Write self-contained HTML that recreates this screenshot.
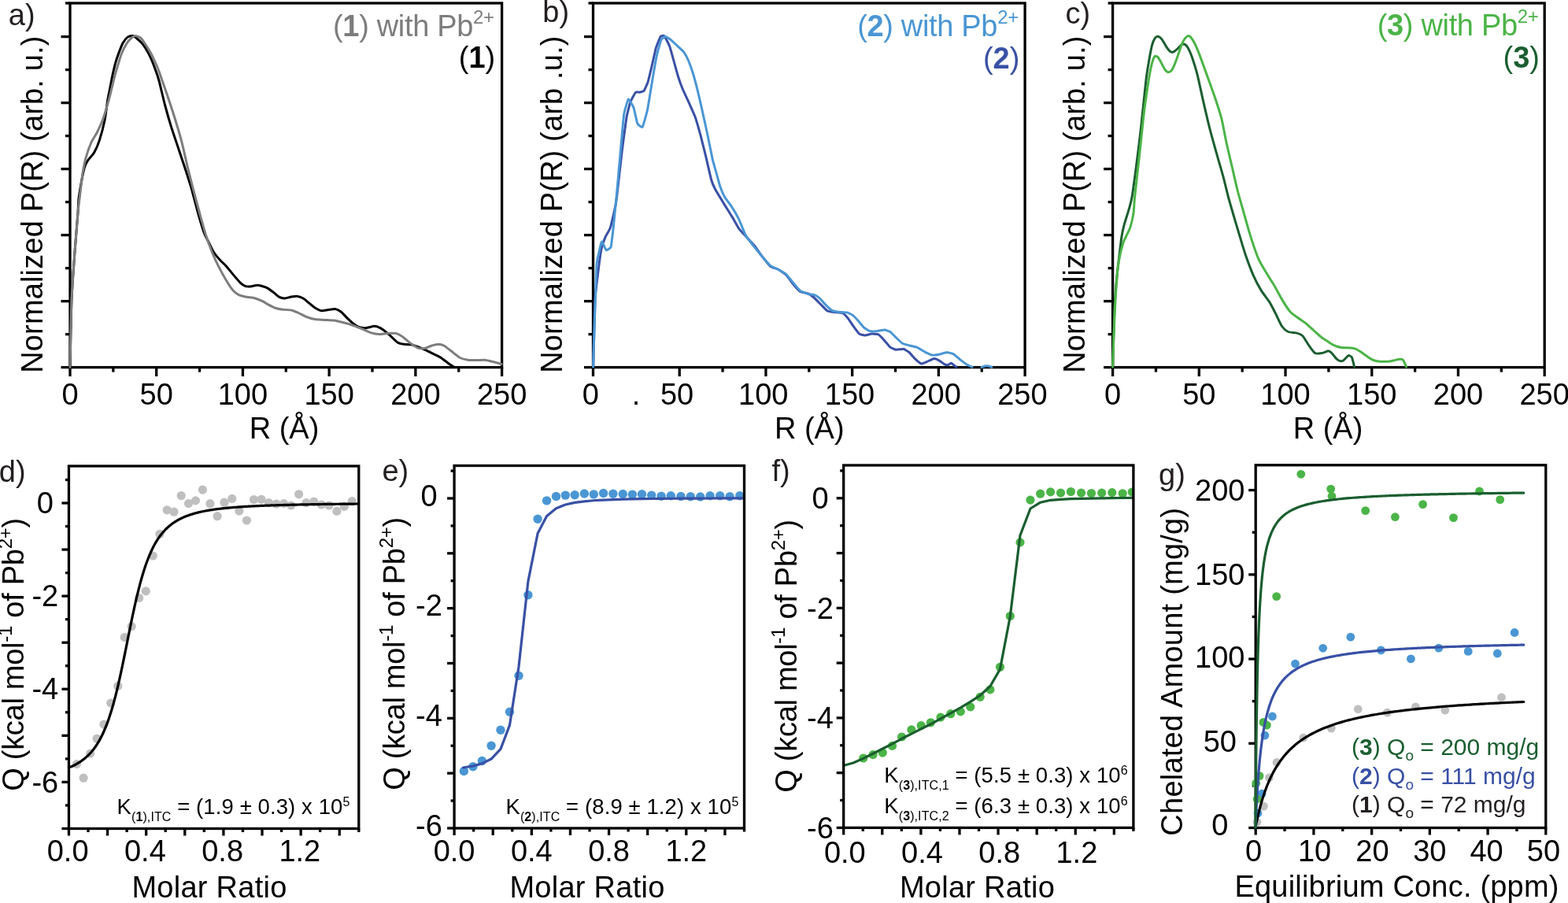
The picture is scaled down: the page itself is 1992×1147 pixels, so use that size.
<!DOCTYPE html>
<html><head><meta charset="utf-8"><title>Figure</title>
<style>
html,body{margin:0;padding:0;background:#fff;}
body{width:1992px;height:1147px;overflow:hidden;}
svg{display:block;}
text{font-family:'Liberation Sans', Arial, Helvetica, sans-serif;}
</style></head>
<body>
<svg width="1992" height="1147" viewBox="0 0 1992 1147">
<rect width="1992" height="1147" fill="#fff"/>
<line x1="89" y1="466.6" x2="89" y2="478.1" stroke="#000" stroke-width="3.3"/>
<line x1="198.72" y1="466.6" x2="198.72" y2="478.1" stroke="#000" stroke-width="3.3"/>
<line x1="308.44" y1="466.6" x2="308.44" y2="478.1" stroke="#000" stroke-width="3.3"/>
<line x1="418.16" y1="466.6" x2="418.16" y2="478.1" stroke="#000" stroke-width="3.3"/>
<line x1="527.88" y1="466.6" x2="527.88" y2="478.1" stroke="#000" stroke-width="3.3"/>
<line x1="637.6" y1="466.6" x2="637.6" y2="478.1" stroke="#000" stroke-width="3.3"/>
<line x1="143.86" y1="466.6" x2="143.86" y2="472.6" stroke="#000" stroke-width="3.3"/>
<line x1="253.58" y1="466.6" x2="253.58" y2="472.6" stroke="#000" stroke-width="3.3"/>
<line x1="363.3" y1="466.6" x2="363.3" y2="472.6" stroke="#000" stroke-width="3.3"/>
<line x1="473.02" y1="466.6" x2="473.02" y2="472.6" stroke="#000" stroke-width="3.3"/>
<line x1="582.74" y1="466.6" x2="582.74" y2="472.6" stroke="#000" stroke-width="3.3"/>
<line x1="77.5" y1="466.6" x2="89" y2="466.6" stroke="#000" stroke-width="3.3"/>
<line x1="77.5" y1="382.6" x2="89" y2="382.6" stroke="#000" stroke-width="3.3"/>
<line x1="77.5" y1="298.6" x2="89" y2="298.6" stroke="#000" stroke-width="3.3"/>
<line x1="77.5" y1="214.6" x2="89" y2="214.6" stroke="#000" stroke-width="3.3"/>
<line x1="77.5" y1="130.6" x2="89" y2="130.6" stroke="#000" stroke-width="3.3"/>
<line x1="77.5" y1="46.6" x2="89" y2="46.6" stroke="#000" stroke-width="3.3"/>
<line x1="83" y1="424.6" x2="89" y2="424.6" stroke="#000" stroke-width="3.3"/>
<line x1="83" y1="340.6" x2="89" y2="340.6" stroke="#000" stroke-width="3.3"/>
<line x1="83" y1="256.6" x2="89" y2="256.6" stroke="#000" stroke-width="3.3"/>
<line x1="83" y1="172.6" x2="89" y2="172.6" stroke="#000" stroke-width="3.3"/>
<line x1="83" y1="88.6" x2="89" y2="88.6" stroke="#000" stroke-width="3.3"/>
<line x1="83" y1="4" x2="89" y2="4" stroke="#000" stroke-width="3.3"/>
<text x="89" y="514" font-size="38" text-anchor="middle" fill="#000">0</text>
<text x="198.72" y="514" font-size="38" text-anchor="middle" fill="#000">50</text>
<text x="308.44" y="514" font-size="38" text-anchor="middle" fill="#000">100</text>
<text x="418.16" y="514" font-size="38" text-anchor="middle" fill="#000">150</text>
<text x="527.88" y="514" font-size="38" text-anchor="middle" fill="#000">200</text>
<text x="637.6" y="514" font-size="38" text-anchor="middle" fill="#000">250</text>
<line x1="753.5" y1="466.6" x2="753.5" y2="478.1" stroke="#000" stroke-width="3.3"/>
<line x1="863.22" y1="466.6" x2="863.22" y2="478.1" stroke="#000" stroke-width="3.3"/>
<line x1="972.94" y1="466.6" x2="972.94" y2="478.1" stroke="#000" stroke-width="3.3"/>
<line x1="1082.66" y1="466.6" x2="1082.66" y2="478.1" stroke="#000" stroke-width="3.3"/>
<line x1="1192.38" y1="466.6" x2="1192.38" y2="478.1" stroke="#000" stroke-width="3.3"/>
<line x1="1302.1" y1="466.6" x2="1302.1" y2="478.1" stroke="#000" stroke-width="3.3"/>
<line x1="918.08" y1="466.6" x2="918.08" y2="472.6" stroke="#000" stroke-width="3.3"/>
<line x1="1027.8" y1="466.6" x2="1027.8" y2="472.6" stroke="#000" stroke-width="3.3"/>
<line x1="1137.52" y1="466.6" x2="1137.52" y2="472.6" stroke="#000" stroke-width="3.3"/>
<line x1="1247.24" y1="466.6" x2="1247.24" y2="472.6" stroke="#000" stroke-width="3.3"/>
<line x1="742" y1="466.6" x2="753.5" y2="466.6" stroke="#000" stroke-width="3.3"/>
<line x1="742" y1="382.6" x2="753.5" y2="382.6" stroke="#000" stroke-width="3.3"/>
<line x1="742" y1="298.6" x2="753.5" y2="298.6" stroke="#000" stroke-width="3.3"/>
<line x1="742" y1="214.6" x2="753.5" y2="214.6" stroke="#000" stroke-width="3.3"/>
<line x1="742" y1="130.6" x2="753.5" y2="130.6" stroke="#000" stroke-width="3.3"/>
<line x1="742" y1="46.6" x2="753.5" y2="46.6" stroke="#000" stroke-width="3.3"/>
<line x1="747.5" y1="424.6" x2="753.5" y2="424.6" stroke="#000" stroke-width="3.3"/>
<line x1="747.5" y1="340.6" x2="753.5" y2="340.6" stroke="#000" stroke-width="3.3"/>
<line x1="747.5" y1="256.6" x2="753.5" y2="256.6" stroke="#000" stroke-width="3.3"/>
<line x1="747.5" y1="172.6" x2="753.5" y2="172.6" stroke="#000" stroke-width="3.3"/>
<line x1="747.5" y1="88.6" x2="753.5" y2="88.6" stroke="#000" stroke-width="3.3"/>
<line x1="747.5" y1="4" x2="753.5" y2="4" stroke="#000" stroke-width="3.3"/>
<text x="750.3" y="514" font-size="38" text-anchor="middle" fill="#000">0</text>
<text x="860.02" y="514" font-size="38" text-anchor="middle" fill="#000">50</text>
<text x="969.74" y="514" font-size="38" text-anchor="middle" fill="#000">100</text>
<text x="1079.46" y="514" font-size="38" text-anchor="middle" fill="#000">150</text>
<text x="1189.18" y="514" font-size="38" text-anchor="middle" fill="#000">200</text>
<text x="1298.9" y="514" font-size="38" text-anchor="middle" fill="#000">250</text>
<line x1="1413.6" y1="466.6" x2="1413.6" y2="478.1" stroke="#000" stroke-width="3.3"/>
<line x1="1523.32" y1="466.6" x2="1523.32" y2="478.1" stroke="#000" stroke-width="3.3"/>
<line x1="1633.04" y1="466.6" x2="1633.04" y2="478.1" stroke="#000" stroke-width="3.3"/>
<line x1="1742.76" y1="466.6" x2="1742.76" y2="478.1" stroke="#000" stroke-width="3.3"/>
<line x1="1852.48" y1="466.6" x2="1852.48" y2="478.1" stroke="#000" stroke-width="3.3"/>
<line x1="1962.2" y1="466.6" x2="1962.2" y2="478.1" stroke="#000" stroke-width="3.3"/>
<line x1="1468.46" y1="466.6" x2="1468.46" y2="472.6" stroke="#000" stroke-width="3.3"/>
<line x1="1578.18" y1="466.6" x2="1578.18" y2="472.6" stroke="#000" stroke-width="3.3"/>
<line x1="1687.9" y1="466.6" x2="1687.9" y2="472.6" stroke="#000" stroke-width="3.3"/>
<line x1="1797.62" y1="466.6" x2="1797.62" y2="472.6" stroke="#000" stroke-width="3.3"/>
<line x1="1907.34" y1="466.6" x2="1907.34" y2="472.6" stroke="#000" stroke-width="3.3"/>
<line x1="1402.1" y1="466.6" x2="1413.6" y2="466.6" stroke="#000" stroke-width="3.3"/>
<line x1="1402.1" y1="382.6" x2="1413.6" y2="382.6" stroke="#000" stroke-width="3.3"/>
<line x1="1402.1" y1="298.6" x2="1413.6" y2="298.6" stroke="#000" stroke-width="3.3"/>
<line x1="1402.1" y1="214.6" x2="1413.6" y2="214.6" stroke="#000" stroke-width="3.3"/>
<line x1="1402.1" y1="130.6" x2="1413.6" y2="130.6" stroke="#000" stroke-width="3.3"/>
<line x1="1402.1" y1="46.6" x2="1413.6" y2="46.6" stroke="#000" stroke-width="3.3"/>
<line x1="1407.6" y1="424.6" x2="1413.6" y2="424.6" stroke="#000" stroke-width="3.3"/>
<line x1="1407.6" y1="340.6" x2="1413.6" y2="340.6" stroke="#000" stroke-width="3.3"/>
<line x1="1407.6" y1="256.6" x2="1413.6" y2="256.6" stroke="#000" stroke-width="3.3"/>
<line x1="1407.6" y1="172.6" x2="1413.6" y2="172.6" stroke="#000" stroke-width="3.3"/>
<line x1="1407.6" y1="88.6" x2="1413.6" y2="88.6" stroke="#000" stroke-width="3.3"/>
<line x1="1407.6" y1="4" x2="1413.6" y2="4" stroke="#000" stroke-width="3.3"/>
<text x="1413.6" y="514" font-size="38" text-anchor="middle" fill="#000">0</text>
<text x="1523.32" y="514" font-size="38" text-anchor="middle" fill="#000">50</text>
<text x="1633.04" y="514" font-size="38" text-anchor="middle" fill="#000">100</text>
<text x="1742.76" y="514" font-size="38" text-anchor="middle" fill="#000">150</text>
<text x="1852.48" y="514" font-size="38" text-anchor="middle" fill="#000">200</text>
<text x="1962.2" y="514" font-size="38" text-anchor="middle" fill="#000">250</text>
<rect x="89" y="4" width="548.6" height="462.6" fill="none" stroke="#000" stroke-width="3.3"/>
<rect x="753.5" y="4" width="548.6" height="462.6" fill="none" stroke="#000" stroke-width="3.3"/>
<rect x="1413.6" y="4" width="548.6" height="462.6" fill="none" stroke="#000" stroke-width="3.3"/>
<path d="M89,466.5 C89.23,456.41 90.3,397.09 91,380 C91.7,362.91 94.07,332.83 95,320 C95.93,307.17 98.38,278.17 99,270 C99.62,261.83 99.37,256.53 100.3,250 C101.23,243.47 105.66,219.43 107,214 C108.34,208.57 110.34,205.83 111.8,203.5 C113.26,201.17 117.82,196.91 119.5,194 C121.18,191.09 124.62,183.42 126.2,178.6 C127.78,173.78 131.75,158.8 133,152.7 C134.25,146.6 136.08,131.21 136.9,126.3 C137.72,121.39 139.28,114.26 140,110.6 C140.72,106.94 142.29,98.56 143.1,94.9 C143.91,91.24 146,82.4 146.9,79.2 C147.8,76 149.75,70.32 150.8,67.5 C151.85,64.68 154.57,57.38 155.9,55 C157.23,52.62 160.65,48.21 162.2,47.1 C163.75,45.99 167.82,45.28 169.2,45.5 C170.58,45.72 172.8,48 174,49 C175.2,50 178.23,52.68 179.5,54.1 C180.77,55.52 183.53,59 184.9,61.2 C186.27,63.41 189.73,69.79 191.2,73 C192.67,76.21 196.24,85.26 197.5,88.7 C198.76,92.14 200.59,97.27 202,102.5 C203.41,107.73 207.81,126.75 209.6,133.5 C211.38,140.25 215.28,153.9 217.3,160.4 C219.32,166.9 224.66,182.48 226.9,189.2 C229.14,195.92 234.57,212.07 236.5,218 C238.43,223.93 241.66,233.93 243.4,240 C245.14,246.07 249.53,263.45 251.4,270 C253.27,276.55 257.77,291.64 259.4,296.1 C261.03,300.56 264,305.39 265.4,308.2 C266.8,311.01 269.75,317.63 271.4,320.2 C273.04,322.77 277.62,328.1 279.5,330.2 C281.38,332.3 285.4,335.85 287.5,338.2 C289.6,340.55 295.4,347.84 297.5,350.3 C299.6,352.76 303.87,357.78 305.5,359.3 C307.13,360.82 310.09,362.76 311.5,363.3 C312.91,363.84 315.72,364.02 317.6,363.9 C319.48,363.78 325.5,362.25 327.6,362.3 C329.7,362.35 334.15,363.86 335.6,364.3 C337.05,364.74 338.61,365.27 340,366.1 C341.39,366.93 345.75,370.08 347.5,371.4 C349.25,372.72 353.33,376.52 355,377.4 C356.67,378.27 360.04,378.95 361.8,378.9 C363.56,378.85 368.16,377.29 370.1,377 C372.04,376.71 376.64,376.17 378.4,376.4 C380.16,376.63 383.53,378 385.2,379 C386.87,380 390.95,383.6 392.7,385 C394.45,386.4 398.36,389.86 400.2,391 C402.04,392.14 406.56,394.5 408.5,394.8 C410.44,395.1 414.78,393.87 416.8,393.6 C418.82,393.33 423.86,392.19 425.8,392.5 C427.74,392.81 431.64,394.98 433.4,396.3 C435.16,397.62 439.15,402.13 440.9,403.8 C442.65,405.47 446.64,409.24 448.4,410.6 C450.16,411.97 454.06,414.8 456,415.5 C457.94,416.2 462.73,416.74 465,416.6 C467.27,416.46 473.39,414.3 475.5,414.3 C477.61,414.3 481.34,415.71 483.1,416.6 C484.86,417.49 488.85,420.5 490.6,421.9 C492.35,423.3 496.34,427.03 498.1,428.6 C499.86,430.18 503.94,434.4 505.7,435.4 C507.46,436.4 511.28,436.93 513.2,437.2 C515.12,437.47 520.09,437.29 522.2,437.7 C524.31,438.11 529.01,439.82 531.3,440.7 C533.59,441.57 539.52,444.15 541.8,445.2 C544.07,446.25 548.69,448.65 550.8,449.7 C552.91,450.75 557.79,452.88 559.9,454.2 C562.01,455.52 566.98,459.62 568.9,461 C570.82,462.38 575.52,465.42 576.4,466" fill="none" stroke="#000" stroke-width="3.0" stroke-linejoin="round" stroke-linecap="round"/>
<path d="M89,466.5 C89.23,456.41 90.3,397.09 91,380 C91.7,362.91 94.07,332.83 95,320 C95.93,307.17 98.27,278.17 99,270 C99.73,261.83 100.59,255.86 101.3,250 C102.01,244.14 104.2,225.55 105.1,219.8 C106,214.05 107.76,205.17 109,200.7 C110.24,196.23 114.02,185.31 115.7,181.5 C117.38,177.69 121.62,171.58 123.4,168 C125.19,164.42 129.25,155.67 131,150.8 C132.75,145.94 137.08,130.99 138.4,126.3 C139.72,121.61 141.39,114.26 142.3,110.6 C143.21,106.94 145.21,98.56 146.2,94.9 C147.19,91.24 149.81,82.4 150.8,79.2 C151.79,76 153.56,70.24 154.7,67.5 C155.84,64.76 159.34,57.79 160.6,55.7 C161.86,53.61 164.22,50.79 165.5,49.6 C166.78,48.41 170.06,45.66 171.6,45.5 C173.14,45.34 177.15,46.92 178.7,48.2 C180.25,49.48 183.35,54.16 184.9,56.5 C186.45,58.84 190.24,64.92 192,68.3 C193.76,71.68 198.83,82.88 200,85.5 C201.17,88.12 200.65,86.98 202,90.8 C203.35,94.61 209.37,111.64 211.6,118.2 C213.83,124.76 218.87,139.84 221.1,147 C223.33,154.16 228.68,171.96 230.7,179.6 C232.72,187.24 236.69,205.45 238.4,212.5 C240.12,219.55 243.65,233.29 245.4,240 C247.15,246.71 251.53,263.22 253.4,270 C255.27,276.78 259.53,292.24 261.4,298.1 C263.27,303.96 267.52,315.52 269.4,320.2 C271.28,324.88 275.39,333.99 277.5,338.2 C279.61,342.41 285.4,352.79 287.5,356.3 C289.6,359.81 293.63,366.15 295.5,368.3 C297.37,370.45 301.39,373.65 303.5,374.7 C305.61,375.75 311.25,376.83 313.6,377.3 C315.95,377.77 321.27,378.07 323.6,378.7 C325.93,379.33 331.69,381.79 333.6,382.7 C335.51,383.61 338.2,385.53 340,386.5 C341.8,387.47 346.89,390.24 349,391 C351.11,391.76 355.64,392.65 358.1,393 C360.56,393.35 367.64,393.48 370.1,394 C372.56,394.52 376.91,396.5 379.2,397.5 C381.49,398.5 387.25,401.66 389.7,402.6 C392.15,403.55 397.56,405.16 400.2,405.6 C402.84,406.04 409.49,406.22 412.3,406.4 C415.11,406.57 421.49,406.7 424.3,407.1 C427.11,407.5 433.59,409.08 436.4,409.8 C439.21,410.52 445.59,412.33 448.4,413.3 C451.21,414.27 457.86,417.02 460.5,418.1 C463.14,419.19 468.54,421.84 471,422.6 C473.46,423.36 479.14,424.51 481.6,424.6 C484.06,424.69 489.64,423.54 492.1,423.4 C494.56,423.26 500.41,422.88 502.7,423.4 C504.99,423.92 509.6,426.5 511.7,427.9 C513.8,429.3 518.41,433.73 520.7,435.4 C522.99,437.07 529.01,441.41 531.3,442.2 C533.59,442.99 538.38,442.55 540.3,442.2 C542.22,441.85 545.86,439.78 547.8,439.2 C549.74,438.62 554.96,437.2 556.9,437.2 C558.84,437.2 562.48,438.17 564.4,439.2 C566.32,440.23 571.11,444.25 573.4,446 C575.69,447.75 581.54,452.88 584,454.2 C586.46,455.52 592.04,456.9 594.5,457.3 C596.96,457.7 602.64,457.6 605.1,457.6 C607.56,457.6 613.15,457.08 615.6,457.3 C618.05,457.52 623.6,458.89 626.1,459.5 C628.6,460.11 635.73,462.15 637,462.5" fill="none" stroke="#7d7d7d" stroke-width="3.0" stroke-linejoin="round" stroke-linecap="round"/>
<path d="M753.6,466 C753.74,461.01 755.63,387.5 756,380.4 C756.37,373.3 759.53,348.05 760,344.3 C760.47,340.56 763.48,318.71 764,316.2 C764.52,313.69 768.35,302.72 769,301.2 C769.65,299.68 774.51,291.68 775.1,290.1 C775.69,288.52 778.69,275.85 779.1,274.1 C779.51,272.35 781.84,261.51 782.1,260.1 C782.36,258.69 783.12,254.03 783.6,250 C784.08,245.97 789.58,196.9 790.3,191 C791.02,185.1 795.39,152.48 796,148.9 C796.61,145.32 800.13,131.55 800.8,129.7 C801.47,127.85 806.83,117.93 807.5,117.2 C808.17,116.47 811.68,117.31 812.3,117.2 C812.92,117.09 817.48,116.02 818.1,115.3 C818.72,114.58 822.34,106.53 822.9,104.8 C823.46,103.07 827.09,88.17 827.7,85.6 C828.31,83.03 832.73,62.99 833.4,60.7 C834.07,58.41 838.58,47.17 839.2,46.3 C839.82,45.42 843.33,44.97 844,45.7 C844.67,46.43 849.98,56.86 850.7,58.8 C851.42,60.74 855.79,76.72 856.4,78.9 C857.01,81.08 860.58,94.24 861.2,96.2 C861.82,98.16 866.1,110.32 867,112.5 C867.9,114.68 875.65,131.38 876.6,133.5 C877.55,135.62 882.52,146.66 883.3,148.9 C884.08,151.14 889.22,169 890,171.9 C890.78,174.81 895.92,195.46 896.7,198.7 C897.48,201.94 902.72,225.09 903.4,227.5 C904.08,229.91 907.4,238.1 908.4,240 C909.4,241.9 919.21,257.99 920.5,260.1 C921.79,262.21 929.45,274.35 930.5,276.1 C931.55,277.85 937.51,288.69 938.5,290.1 C939.49,291.51 946.33,298.91 947.5,300.2 C948.67,301.49 957.37,310.68 958.6,312.2 C959.83,313.72 967.43,324.68 968.6,326.2 C969.77,327.72 977.43,337.36 978.6,338.3 C979.77,339.24 987.53,341.66 988.7,342.3 C989.87,342.94 997.53,348.13 998.7,349.3 C999.87,350.47 1007.65,361.07 1008.7,362.3 C1009.75,363.53 1015.63,369.78 1016.7,370.4 C1017.77,371.02 1025.98,372.56 1027,373 C1028.02,373.44 1033.2,377.22 1034.1,378 C1035,378.78 1041.52,385.42 1042.5,386.4 C1043.48,387.38 1049.91,394.21 1050.9,394.8 C1051.89,395.39 1058.25,396.34 1059.4,396.5 C1060.55,396.66 1069.54,397.12 1070.6,397.6 C1071.66,398.08 1076.78,403.67 1077.6,404.7 C1078.42,405.73 1083.88,414.07 1084.7,415.2 C1085.52,416.33 1090.88,423.47 1091.7,424.1 C1092.52,424.73 1097.8,426 1098.7,426 C1099.6,426 1106.21,424.18 1107.2,424.1 C1108.19,424.02 1114.7,424.17 1115.6,424.6 C1116.5,425.03 1121.7,430.43 1122.6,431.4 C1123.5,432.37 1130.1,440.45 1131,441.2 C1131.9,441.95 1137.11,444.18 1138.1,444.3 C1139.09,444.42 1146.91,443.11 1147.9,443.3 C1148.89,443.49 1154.1,446.72 1155,447.5 C1155.9,448.28 1162.5,455.85 1163.4,456.7 C1164.3,457.55 1169.58,461.84 1170.4,462 C1171.22,462.16 1176.46,459.88 1177.4,459.5 C1178.35,459.12 1185.7,455.6 1186.6,455.5 C1187.5,455.4 1192.12,457.39 1192.9,457.8 C1193.68,458.21 1199.25,462.26 1199.9,462.6 C1200.55,462.94 1203.6,463.78 1204.1,463.7 C1204.6,463.62 1207.78,461.07 1208.4,461.2 C1209.02,461.33 1214.33,465.72 1214.7,466" fill="none" stroke="#3950a5" stroke-width="3.0" stroke-linejoin="round" stroke-linecap="round"/>
<path d="M753.6,466 C753.72,462.17 755.34,407.97 755.6,400.4 C755.86,392.83 757.68,340.98 758,336.3 C758.32,331.62 760.63,321.9 761,320.2 C761.37,318.5 764.05,307.72 764.4,307.2 C764.75,306.68 766.67,310.58 767,311.2 C767.33,311.82 769.57,317.65 770.1,317.8 C770.63,317.95 775.58,315.42 776.1,313.8 C776.62,312.18 778.75,293.23 779.1,290.1 C779.45,286.97 781.81,263.02 782.1,260.1 C782.39,257.18 783.79,243.35 784.1,240 C784.41,236.65 786.9,208.08 787.4,202.6 C787.9,197.12 791.96,150.47 792.6,146 C793.24,141.53 797.56,126.4 798.3,125.9 C799.03,125.4 804.53,135.59 805.2,137.4 C805.87,139.21 809.16,155.51 809.8,156.9 C810.44,158.29 815.46,162.3 816.2,161.3 C816.94,160.3 821.78,143.11 822.5,139.7 C823.22,136.29 827.91,106.95 828.6,102.9 C829.29,98.85 833.75,73.32 834.4,70.3 C835.05,67.28 839.09,52.5 839.7,51.1 C840.31,49.7 844.21,46.36 844.9,46.3 C845.59,46.24 850.54,49.26 851.6,50.1 C852.66,50.94 862.09,59.75 863.1,60.7 C864.11,61.65 868.23,65.45 868.9,66.4 C869.57,67.35 873.93,75.43 874.6,77 C875.27,78.57 879.73,91.12 880.4,93.3 C881.07,95.48 885.43,111.72 886.1,114.4 C886.77,117.08 891.17,136.06 891.9,139.3 C892.63,142.54 897.82,166.31 898.6,170 C899.38,173.69 904.63,199.69 905.3,202.6 C905.97,205.5 909.54,217.79 910.1,219.8 C910.66,221.81 914.29,235.34 914.9,237.1 C915.51,238.86 919.59,248.43 920.5,250 C921.41,251.57 929.45,262.46 930.5,264.1 C931.55,265.74 937.51,276.05 938.5,278.1 C939.49,280.15 946.33,297.09 947.5,299.2 C948.67,301.31 957.37,312.62 958.6,314.2 C959.83,315.77 967.43,324.85 968.6,326.2 C969.77,327.55 977.43,336.36 978.6,337.3 C979.77,338.24 987.53,341.66 988.7,342.3 C989.87,342.94 997.53,347.25 998.7,348.3 C999.87,349.35 1007.65,359.07 1008.7,360.3 C1009.75,361.53 1015.63,368.63 1016.7,369.4 C1017.77,370.17 1025.98,373.21 1027,373.5 C1028.02,373.79 1033.28,374.1 1034.1,374.4 C1034.92,374.7 1040.28,378 1041.1,378.7 C1041.92,379.4 1047.2,385.5 1048.1,386.4 C1049,387.3 1055.51,393.53 1056.5,394.1 C1057.49,394.67 1063.85,396.04 1065,396.2 C1066.15,396.36 1075.13,396.65 1076.2,396.9 C1077.27,397.14 1082.48,399.78 1083.3,400.4 C1084.12,401.02 1089.48,406.6 1090.3,407.5 C1091.12,408.4 1096.48,415.15 1097.3,415.9 C1098.12,416.65 1103.4,420.11 1104.3,420.4 C1105.2,420.69 1111.65,420.88 1112.8,420.8 C1113.95,420.72 1122.94,418.96 1124,419 C1125.06,419.04 1130.18,420.94 1131,421.5 C1131.82,422.06 1137.2,427.74 1138.1,428.6 C1139,429.46 1145.51,435.71 1146.5,436.3 C1147.49,436.89 1153.93,438.41 1155,438.7 C1156.07,438.99 1163.66,440.73 1164.8,441.2 C1165.94,441.67 1173.45,446.23 1174.6,446.8 C1175.75,447.37 1183.43,450.8 1184.5,451 C1185.57,451.2 1191.84,450.5 1192.9,450.3 C1193.96,450.1 1201.63,447.54 1202.7,447.5 C1203.77,447.46 1210.21,449.06 1211.2,449.6 C1212.19,450.14 1218.62,455.92 1219.6,456.7 C1220.58,457.48 1227.1,462.45 1228,463 C1228.9,463.55 1234.69,466.01 1235.1,466.2" fill="none" stroke="#4a96d4" stroke-width="3.0" stroke-linejoin="round" stroke-linecap="round"/>
<path d="M1247,466.5 C1247.83,466.22 1250.5,465.05 1252,464.8 C1253.5,464.55 1254.67,464.72 1256,465 C1257.33,465.28 1259.33,466.25 1260,466.5" fill="none" stroke="#4a96d4" stroke-width="3.0" stroke-linejoin="round" stroke-linecap="round"/>
<path d="M1413.6,466 C1413.88,457.18 1415.37,403.9 1416,390.4 C1416.63,376.9 1418.3,358.02 1419,350.3 C1419.7,342.58 1421.3,330.05 1422,324.2 C1422.7,318.35 1424.3,304.64 1425,300.2 C1425.7,295.75 1426.94,290.08 1428,286.1 C1429.06,282.12 1432.92,270.31 1434.1,266.1 C1435.28,261.89 1436.99,256.52 1438.1,250 C1439.21,243.48 1442.29,220.21 1443.6,210.2 C1444.91,200.19 1447.85,176.94 1449.3,164.2 C1450.75,151.46 1454.73,111.51 1456,101 C1457.27,90.49 1459.3,79.26 1460.2,74.1 C1461.1,68.94 1462.85,59.82 1463.7,56.8 C1464.55,53.78 1466.6,49.43 1467.5,48.2 C1468.4,46.98 1470.38,46.08 1471.4,46.3 C1472.42,46.52 1474.98,48.54 1476.2,50.1 C1477.42,51.66 1480.68,57.9 1481.9,59.7 C1483.12,61.5 1485.7,64.77 1486.7,65.5 C1487.7,66.23 1489.38,66.45 1490.5,66 C1491.62,65.55 1495.06,62.67 1496.3,61.6 C1497.54,60.53 1499.98,57.36 1501.1,56.8 C1502.22,56.24 1504.78,56.01 1505.9,56.8 C1507.02,57.59 1509.58,61.36 1510.7,63.6 C1511.82,65.84 1514.28,72.31 1515.5,76 C1516.72,79.69 1519.64,88.94 1521.2,95.2 C1522.76,101.47 1527.1,121.87 1528.9,129.7 C1530.7,137.53 1534.59,154.47 1536.6,162.3 C1538.61,170.13 1544.09,189.64 1546.1,196.8 C1548.11,203.96 1552.13,217.49 1553.8,223.7 C1555.47,229.91 1558.97,244.6 1560.4,250 C1561.84,255.4 1564.47,264.4 1566.1,270 C1567.73,275.6 1572.49,291.68 1574.4,298 C1576.31,304.32 1580.39,318.1 1582.5,324.2 C1584.61,330.3 1590.17,345.03 1592.5,350.3 C1594.83,355.57 1600.15,365.54 1602.5,369.4 C1604.85,373.26 1610.49,380.02 1612.6,383.4 C1614.71,386.78 1618.73,394.77 1620.6,398.4 C1622.47,402.03 1626.73,411.81 1628.6,414.5 C1630.47,417.19 1634.49,420.52 1636.6,421.5 C1638.71,422.48 1644.59,422.32 1646.7,422.9 C1648.81,423.48 1652.83,424.67 1654.7,426.5 C1656.57,428.33 1660.83,436.02 1662.7,438.6 C1664.57,441.18 1668.82,447.43 1670.7,448.6 C1672.58,449.77 1677.35,448.75 1678.8,448.6 C1680.25,448.45 1682.11,447.63 1683.1,447.3 C1684.09,446.97 1686.38,445.76 1687.3,445.8 C1688.22,445.84 1690.14,446.89 1691,447.6 C1691.86,448.31 1693.85,450.9 1694.7,451.9 C1695.55,452.9 1697.38,455.42 1698.3,456.2 C1699.22,456.98 1701.67,458.39 1702.6,458.6 C1703.53,458.81 1705.45,458.47 1706.3,458 C1707.15,457.53 1709.08,455.35 1709.9,454.6 C1710.72,453.85 1712.45,451.71 1713.3,451.6 C1714.15,451.5 1716.52,452.74 1717.2,453.7 C1717.88,454.66 1718.7,458.37 1719.1,459.8 C1719.5,461.24 1720.42,465.28 1720.6,466" fill="none" stroke="#1b5e30" stroke-width="3.0" stroke-linejoin="round" stroke-linecap="round"/>
<path d="M1413.6,466 C1413.88,458.35 1415.37,413.66 1416,400.4 C1416.63,387.13 1418.3,360.72 1419,352.3 C1419.7,343.88 1421.07,333.34 1422,328.2 C1422.93,323.06 1425.82,311.82 1427,308.2 C1428.18,304.58 1431.04,299.54 1432.1,297.2 C1433.16,294.86 1435.17,291.26 1436.1,288.1 C1437.03,284.94 1439.46,274.55 1440.1,270.1 C1440.74,265.66 1440.75,258.33 1441.6,250 C1442.45,241.67 1446.06,210.95 1447.4,198.7 C1448.74,186.45 1451.88,155.29 1453.1,145 C1454.32,134.71 1456.84,117.43 1457.9,110.5 C1458.96,103.57 1461.19,90.07 1462.2,85.6 C1463.21,81.13 1465.57,73.72 1466.6,72.2 C1467.63,70.68 1469.88,71.53 1471,72.6 C1472.12,73.67 1475.15,79.55 1476.2,81.4 C1477.25,83.26 1479.04,87.3 1480,88.5 C1480.96,89.7 1483.35,91.7 1484.4,91.7 C1485.45,91.7 1487.95,89.99 1489,88.5 C1490.05,87.01 1492.37,81.48 1493.4,78.9 C1494.43,76.32 1496.8,69.2 1497.8,66.4 C1498.8,63.6 1501.06,57.02 1502,54.9 C1502.94,52.78 1504.88,49.27 1505.9,48.2 C1506.92,47.13 1509.58,45.36 1510.7,45.7 C1511.82,46.04 1514.38,49.35 1515.5,51.1 C1516.62,52.85 1518.96,57.57 1520.3,60.7 C1521.64,63.83 1525.33,73.43 1527,77.9 C1528.67,82.37 1532.59,93.4 1534.6,99 C1536.61,104.6 1542.18,119.86 1544.2,125.9 C1546.22,131.94 1550.31,144.49 1551.9,150.8 C1553.49,157.11 1556.26,172.93 1557.8,180 C1559.34,187.07 1563.42,204.17 1565.1,211.4 C1566.78,218.63 1570.5,235.3 1572.2,242 C1573.9,248.7 1577.85,262.25 1579.7,268.8 C1581.56,275.35 1585.91,291.17 1588.1,298.1 C1590.29,305.03 1596.11,322.58 1598.5,328.2 C1600.89,333.82 1606.25,342.32 1608.6,346.3 C1610.94,350.28 1616.27,358.32 1618.6,362.3 C1620.93,366.28 1626.27,376.54 1628.6,380.4 C1630.93,384.26 1636.25,392.7 1638.6,395.4 C1640.94,398.09 1646.36,401.74 1648.7,403.5 C1651.05,405.26 1656.37,408.63 1658.7,410.5 C1661.03,412.37 1666.36,417.4 1668.7,419.5 C1671.05,421.6 1676.77,426.89 1678.8,428.5 C1680.83,430.11 1684.54,432.29 1686.1,433.3 C1687.66,434.31 1690.78,436.42 1692.2,437.2 C1693.62,437.98 1696.88,439.5 1698.3,440 C1699.72,440.5 1702.98,441.29 1704.4,441.5 C1705.82,441.71 1709.08,441.73 1710.5,441.8 C1711.92,441.87 1715.18,441.93 1716.6,442.1 C1718.02,442.28 1721.28,442.73 1722.7,443.3 C1724.12,443.87 1727.38,446.07 1728.8,447 C1730.22,447.93 1733.47,450.3 1734.9,451.3 C1736.34,452.3 1739.66,454.78 1741.1,455.6 C1742.53,456.42 1745.78,457.88 1747.2,458.3 C1748.62,458.72 1751.88,459.08 1753.3,459.2 C1754.72,459.32 1757.98,459.34 1759.4,459.3 C1760.82,459.26 1764.08,459.09 1765.5,458.9 C1766.92,458.71 1770.18,458.01 1771.6,457.7 C1773.02,457.38 1776.49,456.31 1777.7,456.2 C1778.91,456.09 1781.22,456.24 1782,456.8 C1782.78,457.36 1783.88,459.93 1784.4,461 C1784.93,462.07 1786.26,465.42 1786.5,466" fill="none" stroke="#4bb447" stroke-width="3.0" stroke-linejoin="round" stroke-linecap="round"/>
<text x="802.7" y="514" font-size="38" text-anchor="start" fill="#000">.</text>
<text x="316.68" y="556.7" font-size="38" text-anchor="start" fill="#000">R (Å)</text>
<text x="983.88" y="557" font-size="38" text-anchor="start" fill="#000">R (Å)</text>
<text x="1642.68" y="557" font-size="38" text-anchor="start" fill="#000">R (Å)</text>
<text transform="translate(54,473.82) rotate(-90)" x="0" y="0" font-size="38" text-anchor="start" fill="#000" letter-spacing="0.16">Normalized P(R) (arb. u.)</text>
<text transform="translate(714,473.82) rotate(-90)" x="0" y="0" font-size="38" text-anchor="start" fill="#000" letter-spacing="0.16">Normalized P(R) (arb .u.)</text>
<text transform="translate(1378,473.82) rotate(-90)" x="0" y="0" font-size="38" text-anchor="start" fill="#000" letter-spacing="0.16">Normalized P(R) (arb. u.)</text>
<text x="627.75" y="45.6" font-size="38" text-anchor="end" fill="#7d7d7d" letter-spacing="-0.33">(<tspan font-weight="bold">1</tspan>) with Pb<tspan font-size="24" dy="-15.5">2+</tspan></text>
<text x="629.26" y="86.2" font-size="38" text-anchor="end" fill="#000">(<tspan font-weight="bold">1</tspan>)</text>
<text x="1293.85" y="45.8" font-size="38" text-anchor="end" fill="#4a96d4" letter-spacing="-0.33">(<tspan font-weight="bold">2</tspan>) with Pb<tspan font-size="24" dy="-15.5">2+</tspan></text>
<text x="1295.36" y="86.8" font-size="38" text-anchor="end" fill="#3950a5">(<tspan font-weight="bold">2</tspan>)</text>
<text x="1954.45" y="44.8" font-size="38" text-anchor="end" fill="#4bb447" letter-spacing="-0.33">(<tspan font-weight="bold">3</tspan>) with Pb<tspan font-size="24" dy="-15.5">2+</tspan></text>
<text x="1955.96" y="85.5" font-size="38" text-anchor="end" fill="#1b5e30">(<tspan font-weight="bold">3</tspan>)</text>
<text x="10.79" y="31.5" font-size="38" text-anchor="start" fill="#231f20">a)</text>
<text x="689.25" y="27.5" font-size="38" text-anchor="start" fill="#231f20">b)</text>
<text x="1353.39" y="29.5" font-size="38" text-anchor="start" fill="#231f20">c)</text>
<text x="-1.2" y="611.6" font-size="38" text-anchor="start" fill="#231f20">d)</text>
<text x="485.39" y="611.4" font-size="38" text-anchor="start" fill="#231f20">e)</text>
<text x="980.46" y="611.4" font-size="38" text-anchor="start" fill="#231f20">f)</text>
<text x="1472.1" y="615.5" font-size="38" text-anchor="start" fill="#231f20">g)</text>
<line x1="87.45" y1="1052.5" x2="87.45" y2="1061.5" stroke="#000" stroke-width="3.3"/>
<line x1="112.01" y1="1052.5" x2="112.01" y2="1057" stroke="#000" stroke-width="3.3"/>
<line x1="136.56" y1="1052.5" x2="136.56" y2="1061.5" stroke="#000" stroke-width="3.3"/>
<line x1="161.12" y1="1052.5" x2="161.12" y2="1057" stroke="#000" stroke-width="3.3"/>
<line x1="185.68" y1="1052.5" x2="185.68" y2="1061.5" stroke="#000" stroke-width="3.3"/>
<line x1="210.24" y1="1052.5" x2="210.24" y2="1057" stroke="#000" stroke-width="3.3"/>
<line x1="234.79" y1="1052.5" x2="234.79" y2="1061.5" stroke="#000" stroke-width="3.3"/>
<line x1="259.35" y1="1052.5" x2="259.35" y2="1057" stroke="#000" stroke-width="3.3"/>
<line x1="283.91" y1="1052.5" x2="283.91" y2="1061.5" stroke="#000" stroke-width="3.3"/>
<line x1="308.46" y1="1052.5" x2="308.46" y2="1057" stroke="#000" stroke-width="3.3"/>
<line x1="333.02" y1="1052.5" x2="333.02" y2="1061.5" stroke="#000" stroke-width="3.3"/>
<line x1="357.58" y1="1052.5" x2="357.58" y2="1057" stroke="#000" stroke-width="3.3"/>
<line x1="382.13" y1="1052.5" x2="382.13" y2="1061.5" stroke="#000" stroke-width="3.3"/>
<line x1="406.69" y1="1052.5" x2="406.69" y2="1057" stroke="#000" stroke-width="3.3"/>
<line x1="431.25" y1="1052.5" x2="431.25" y2="1061.5" stroke="#000" stroke-width="3.3"/>
<line x1="455.81" y1="1052.5" x2="455.81" y2="1057" stroke="#000" stroke-width="3.3"/>
<text x="86.15" y="1094.3" font-size="38" text-anchor="middle" fill="#000">0.0</text>
<text x="184.38" y="1094.3" font-size="38" text-anchor="middle" fill="#000">0.4</text>
<text x="282.61" y="1094.3" font-size="38" text-anchor="middle" fill="#000">0.8</text>
<text x="380.83" y="1094.3" font-size="38" text-anchor="middle" fill="#000">1.2</text>
<line x1="78.45" y1="1052.49" x2="87.45" y2="1052.49" stroke="#000" stroke-width="3.3"/>
<line x1="82.95" y1="1022.95" x2="87.45" y2="1022.95" stroke="#000" stroke-width="3.3"/>
<line x1="78.45" y1="993.42" x2="87.45" y2="993.42" stroke="#000" stroke-width="3.3"/>
<line x1="82.95" y1="963.88" x2="87.45" y2="963.88" stroke="#000" stroke-width="3.3"/>
<line x1="78.45" y1="934.35" x2="87.45" y2="934.35" stroke="#000" stroke-width="3.3"/>
<line x1="82.95" y1="904.82" x2="87.45" y2="904.82" stroke="#000" stroke-width="3.3"/>
<line x1="78.45" y1="875.28" x2="87.45" y2="875.28" stroke="#000" stroke-width="3.3"/>
<line x1="82.95" y1="845.75" x2="87.45" y2="845.75" stroke="#000" stroke-width="3.3"/>
<line x1="78.45" y1="816.21" x2="87.45" y2="816.21" stroke="#000" stroke-width="3.3"/>
<line x1="82.95" y1="786.67" x2="87.45" y2="786.67" stroke="#000" stroke-width="3.3"/>
<line x1="78.45" y1="757.14" x2="87.45" y2="757.14" stroke="#000" stroke-width="3.3"/>
<line x1="82.95" y1="727.61" x2="87.45" y2="727.61" stroke="#000" stroke-width="3.3"/>
<line x1="78.45" y1="698.07" x2="87.45" y2="698.07" stroke="#000" stroke-width="3.3"/>
<line x1="82.95" y1="668.53" x2="87.45" y2="668.53" stroke="#000" stroke-width="3.3"/>
<line x1="78.45" y1="639" x2="87.45" y2="639" stroke="#000" stroke-width="3.3"/>
<line x1="82.95" y1="609.47" x2="87.45" y2="609.47" stroke="#000" stroke-width="3.3"/>
<text x="57.3" y="652.2" font-size="38" text-anchor="middle" fill="#000">0</text>
<text x="57.3" y="770.34" font-size="38" text-anchor="middle" fill="#000">-2</text>
<text x="57.3" y="888.48" font-size="38" text-anchor="middle" fill="#000">-4</text>
<text x="57.3" y="1006.62" font-size="38" text-anchor="middle" fill="#000">-6</text>
<line x1="577.1" y1="1052" x2="577.1" y2="1061" stroke="#000" stroke-width="3.3"/>
<line x1="601.66" y1="1052" x2="601.66" y2="1056.5" stroke="#000" stroke-width="3.3"/>
<line x1="626.22" y1="1052" x2="626.22" y2="1061" stroke="#000" stroke-width="3.3"/>
<line x1="650.78" y1="1052" x2="650.78" y2="1056.5" stroke="#000" stroke-width="3.3"/>
<line x1="675.34" y1="1052" x2="675.34" y2="1061" stroke="#000" stroke-width="3.3"/>
<line x1="699.9" y1="1052" x2="699.9" y2="1056.5" stroke="#000" stroke-width="3.3"/>
<line x1="724.46" y1="1052" x2="724.46" y2="1061" stroke="#000" stroke-width="3.3"/>
<line x1="749.02" y1="1052" x2="749.02" y2="1056.5" stroke="#000" stroke-width="3.3"/>
<line x1="773.58" y1="1052" x2="773.58" y2="1061" stroke="#000" stroke-width="3.3"/>
<line x1="798.14" y1="1052" x2="798.14" y2="1056.5" stroke="#000" stroke-width="3.3"/>
<line x1="822.7" y1="1052" x2="822.7" y2="1061" stroke="#000" stroke-width="3.3"/>
<line x1="847.26" y1="1052" x2="847.26" y2="1056.5" stroke="#000" stroke-width="3.3"/>
<line x1="871.82" y1="1052" x2="871.82" y2="1061" stroke="#000" stroke-width="3.3"/>
<line x1="896.38" y1="1052" x2="896.38" y2="1056.5" stroke="#000" stroke-width="3.3"/>
<line x1="920.94" y1="1052" x2="920.94" y2="1061" stroke="#000" stroke-width="3.3"/>
<line x1="945.5" y1="1052" x2="945.5" y2="1056.5" stroke="#000" stroke-width="3.3"/>
<text x="577.1" y="1094.3" font-size="38" text-anchor="middle" fill="#000">0.0</text>
<text x="675.34" y="1094.3" font-size="38" text-anchor="middle" fill="#000">0.4</text>
<text x="773.58" y="1094.3" font-size="38" text-anchor="middle" fill="#000">0.8</text>
<text x="871.82" y="1094.3" font-size="38" text-anchor="middle" fill="#000">1.2</text>
<line x1="568.1" y1="1051.98" x2="577.1" y2="1051.98" stroke="#000" stroke-width="3.3"/>
<line x1="572.6" y1="1017.07" x2="577.1" y2="1017.07" stroke="#000" stroke-width="3.3"/>
<line x1="568.1" y1="982.15" x2="577.1" y2="982.15" stroke="#000" stroke-width="3.3"/>
<line x1="572.6" y1="947.24" x2="577.1" y2="947.24" stroke="#000" stroke-width="3.3"/>
<line x1="568.1" y1="912.32" x2="577.1" y2="912.32" stroke="#000" stroke-width="3.3"/>
<line x1="572.6" y1="877.4" x2="577.1" y2="877.4" stroke="#000" stroke-width="3.3"/>
<line x1="568.1" y1="842.49" x2="577.1" y2="842.49" stroke="#000" stroke-width="3.3"/>
<line x1="572.6" y1="807.58" x2="577.1" y2="807.58" stroke="#000" stroke-width="3.3"/>
<line x1="568.1" y1="772.66" x2="577.1" y2="772.66" stroke="#000" stroke-width="3.3"/>
<line x1="572.6" y1="737.75" x2="577.1" y2="737.75" stroke="#000" stroke-width="3.3"/>
<line x1="568.1" y1="702.83" x2="577.1" y2="702.83" stroke="#000" stroke-width="3.3"/>
<line x1="572.6" y1="667.91" x2="577.1" y2="667.91" stroke="#000" stroke-width="3.3"/>
<line x1="568.1" y1="633" x2="577.1" y2="633" stroke="#000" stroke-width="3.3"/>
<line x1="572.6" y1="598.09" x2="577.1" y2="598.09" stroke="#000" stroke-width="3.3"/>
<text x="545" y="642.8" font-size="38" text-anchor="middle" fill="#000">0</text>
<text x="545" y="782.46" font-size="38" text-anchor="middle" fill="#000">-2</text>
<text x="545" y="922.12" font-size="38" text-anchor="middle" fill="#000">-4</text>
<text x="545" y="1061.78" font-size="38" text-anchor="middle" fill="#000">-6</text>
<line x1="1071.7" y1="1051.4" x2="1071.7" y2="1060.4" stroke="#000" stroke-width="3.3"/>
<line x1="1096.25" y1="1051.4" x2="1096.25" y2="1055.9" stroke="#000" stroke-width="3.3"/>
<line x1="1120.79" y1="1051.4" x2="1120.79" y2="1060.4" stroke="#000" stroke-width="3.3"/>
<line x1="1145.34" y1="1051.4" x2="1145.34" y2="1055.9" stroke="#000" stroke-width="3.3"/>
<line x1="1169.89" y1="1051.4" x2="1169.89" y2="1060.4" stroke="#000" stroke-width="3.3"/>
<line x1="1194.43" y1="1051.4" x2="1194.43" y2="1055.9" stroke="#000" stroke-width="3.3"/>
<line x1="1218.98" y1="1051.4" x2="1218.98" y2="1060.4" stroke="#000" stroke-width="3.3"/>
<line x1="1243.53" y1="1051.4" x2="1243.53" y2="1055.9" stroke="#000" stroke-width="3.3"/>
<line x1="1268.08" y1="1051.4" x2="1268.08" y2="1060.4" stroke="#000" stroke-width="3.3"/>
<line x1="1292.62" y1="1051.4" x2="1292.62" y2="1055.9" stroke="#000" stroke-width="3.3"/>
<line x1="1317.17" y1="1051.4" x2="1317.17" y2="1060.4" stroke="#000" stroke-width="3.3"/>
<line x1="1341.72" y1="1051.4" x2="1341.72" y2="1055.9" stroke="#000" stroke-width="3.3"/>
<line x1="1366.26" y1="1051.4" x2="1366.26" y2="1060.4" stroke="#000" stroke-width="3.3"/>
<line x1="1390.81" y1="1051.4" x2="1390.81" y2="1055.9" stroke="#000" stroke-width="3.3"/>
<line x1="1415.36" y1="1051.4" x2="1415.36" y2="1060.4" stroke="#000" stroke-width="3.3"/>
<line x1="1439.9" y1="1051.4" x2="1439.9" y2="1055.9" stroke="#000" stroke-width="3.3"/>
<text x="1073.3" y="1095.5" font-size="38" text-anchor="middle" fill="#000">0.0</text>
<text x="1171.49" y="1095.5" font-size="38" text-anchor="middle" fill="#000">0.4</text>
<text x="1269.68" y="1095.5" font-size="38" text-anchor="middle" fill="#000">0.8</text>
<text x="1367.86" y="1095.5" font-size="38" text-anchor="middle" fill="#000">1.2</text>
<line x1="1062.7" y1="1051.42" x2="1071.7" y2="1051.42" stroke="#000" stroke-width="3.3"/>
<line x1="1067.2" y1="1016.53" x2="1071.7" y2="1016.53" stroke="#000" stroke-width="3.3"/>
<line x1="1062.7" y1="981.65" x2="1071.7" y2="981.65" stroke="#000" stroke-width="3.3"/>
<line x1="1067.2" y1="946.76" x2="1071.7" y2="946.76" stroke="#000" stroke-width="3.3"/>
<line x1="1062.7" y1="911.88" x2="1071.7" y2="911.88" stroke="#000" stroke-width="3.3"/>
<line x1="1067.2" y1="876.99" x2="1071.7" y2="876.99" stroke="#000" stroke-width="3.3"/>
<line x1="1062.7" y1="842.11" x2="1071.7" y2="842.11" stroke="#000" stroke-width="3.3"/>
<line x1="1067.2" y1="807.22" x2="1071.7" y2="807.22" stroke="#000" stroke-width="3.3"/>
<line x1="1062.7" y1="772.34" x2="1071.7" y2="772.34" stroke="#000" stroke-width="3.3"/>
<line x1="1067.2" y1="737.45" x2="1071.7" y2="737.45" stroke="#000" stroke-width="3.3"/>
<line x1="1062.7" y1="702.57" x2="1071.7" y2="702.57" stroke="#000" stroke-width="3.3"/>
<line x1="1067.2" y1="667.68" x2="1071.7" y2="667.68" stroke="#000" stroke-width="3.3"/>
<line x1="1062.7" y1="632.8" x2="1071.7" y2="632.8" stroke="#000" stroke-width="3.3"/>
<line x1="1067.2" y1="597.91" x2="1071.7" y2="597.91" stroke="#000" stroke-width="3.3"/>
<text x="1042" y="646" font-size="38" text-anchor="middle" fill="#000">0</text>
<text x="1042" y="785.54" font-size="38" text-anchor="middle" fill="#000">-2</text>
<text x="1042" y="925.08" font-size="38" text-anchor="middle" fill="#000">-4</text>
<text x="1042" y="1064.62" font-size="38" text-anchor="middle" fill="#000">-6</text>
<line x1="1595.2" y1="1051.5" x2="1595.2" y2="1060.5" stroke="#000" stroke-width="3.3"/>
<line x1="1632.06" y1="1051.5" x2="1632.06" y2="1056" stroke="#000" stroke-width="3.3"/>
<line x1="1668.92" y1="1051.5" x2="1668.92" y2="1060.5" stroke="#000" stroke-width="3.3"/>
<line x1="1705.78" y1="1051.5" x2="1705.78" y2="1056" stroke="#000" stroke-width="3.3"/>
<line x1="1742.64" y1="1051.5" x2="1742.64" y2="1060.5" stroke="#000" stroke-width="3.3"/>
<line x1="1779.5" y1="1051.5" x2="1779.5" y2="1056" stroke="#000" stroke-width="3.3"/>
<line x1="1816.36" y1="1051.5" x2="1816.36" y2="1060.5" stroke="#000" stroke-width="3.3"/>
<line x1="1853.22" y1="1051.5" x2="1853.22" y2="1056" stroke="#000" stroke-width="3.3"/>
<line x1="1890.08" y1="1051.5" x2="1890.08" y2="1060.5" stroke="#000" stroke-width="3.3"/>
<line x1="1926.94" y1="1051.5" x2="1926.94" y2="1056" stroke="#000" stroke-width="3.3"/>
<line x1="1963.8" y1="1051.5" x2="1963.8" y2="1060.5" stroke="#000" stroke-width="3.3"/>
<text x="1592.5" y="1094.2" font-size="38" text-anchor="middle" fill="#000">0</text>
<text x="1670.12" y="1094.2" font-size="38" text-anchor="middle" fill="#000">10</text>
<text x="1743.44" y="1094.2" font-size="38" text-anchor="middle" fill="#000">20</text>
<text x="1816.36" y="1094.2" font-size="38" text-anchor="middle" fill="#000">30</text>
<text x="1888.58" y="1094.2" font-size="38" text-anchor="middle" fill="#000">40</text>
<text x="1961" y="1094.2" font-size="38" text-anchor="middle" fill="#000">50</text>
<line x1="1586.2" y1="1051.5" x2="1595.2" y2="1051.5" stroke="#000" stroke-width="3.3"/>
<line x1="1590.7" y1="997.89" x2="1595.2" y2="997.89" stroke="#000" stroke-width="3.3"/>
<line x1="1586.2" y1="944.27" x2="1595.2" y2="944.27" stroke="#000" stroke-width="3.3"/>
<line x1="1590.7" y1="890.66" x2="1595.2" y2="890.66" stroke="#000" stroke-width="3.3"/>
<line x1="1586.2" y1="837.05" x2="1595.2" y2="837.05" stroke="#000" stroke-width="3.3"/>
<line x1="1590.7" y1="783.44" x2="1595.2" y2="783.44" stroke="#000" stroke-width="3.3"/>
<line x1="1586.2" y1="729.83" x2="1595.2" y2="729.83" stroke="#000" stroke-width="3.3"/>
<line x1="1590.7" y1="676.21" x2="1595.2" y2="676.21" stroke="#000" stroke-width="3.3"/>
<line x1="1586.2" y1="622.6" x2="1595.2" y2="622.6" stroke="#000" stroke-width="3.3"/>
<text x="1549.8" y="1061" font-size="38" text-anchor="middle" fill="#000">0</text>
<text x="1549.8" y="955.48" font-size="38" text-anchor="middle" fill="#000">50</text>
<text x="1549.8" y="848.05" font-size="38" text-anchor="middle" fill="#000">100</text>
<text x="1549.8" y="743.03" font-size="38" text-anchor="middle" fill="#000">150</text>
<text x="1549.8" y="636.1" font-size="38" text-anchor="middle" fill="#000">200</text>
<rect x="1595.2" y="590.8" width="368.6" height="460.7" fill="none" stroke="#000" stroke-width="3.3"/>
<defs><clipPath id="clipf"><rect x="1071.7" y="591" width="368.2" height="460.4"/></clipPath></defs>
<circle cx="97.4" cy="970.6" r="5.6" fill="#bfbfbf"/>
<circle cx="106.1" cy="988.2" r="5.6" fill="#bfbfbf"/>
<circle cx="114.7" cy="957.1" r="5.6" fill="#bfbfbf"/>
<circle cx="123.1" cy="938.2" r="5.6" fill="#bfbfbf"/>
<circle cx="131.9" cy="920.1" r="5.6" fill="#bfbfbf"/>
<circle cx="140.7" cy="893" r="5.6" fill="#bfbfbf"/>
<circle cx="149.8" cy="871.4" r="5.6" fill="#bfbfbf"/>
<circle cx="158.2" cy="809.6" r="5.6" fill="#bfbfbf"/>
<circle cx="167.2" cy="795.6" r="5.6" fill="#bfbfbf"/>
<circle cx="176.7" cy="759.5" r="5.6" fill="#bfbfbf"/>
<circle cx="185.3" cy="750.9" r="5.6" fill="#bfbfbf"/>
<circle cx="194.3" cy="706" r="5.6" fill="#bfbfbf"/>
<circle cx="203" cy="678.3" r="5.6" fill="#bfbfbf"/>
<circle cx="212.2" cy="647.8" r="5.6" fill="#bfbfbf"/>
<circle cx="221" cy="650.2" r="5.6" fill="#bfbfbf"/>
<circle cx="230.2" cy="629.5" r="5.6" fill="#bfbfbf"/>
<circle cx="239.5" cy="639.5" r="5.6" fill="#bfbfbf"/>
<circle cx="248.5" cy="635.9" r="5.6" fill="#bfbfbf"/>
<circle cx="257.5" cy="622.1" r="5.6" fill="#bfbfbf"/>
<circle cx="266.9" cy="639.7" r="5.6" fill="#bfbfbf"/>
<circle cx="276.1" cy="655.7" r="5.6" fill="#bfbfbf"/>
<circle cx="285" cy="638.2" r="5.6" fill="#bfbfbf"/>
<circle cx="294.8" cy="633.4" r="5.6" fill="#bfbfbf"/>
<circle cx="303.9" cy="649.1" r="5.6" fill="#bfbfbf"/>
<circle cx="313.4" cy="661" r="5.6" fill="#bfbfbf"/>
<circle cx="322.5" cy="634.5" r="5.6" fill="#bfbfbf"/>
<circle cx="332" cy="634.3" r="5.6" fill="#bfbfbf"/>
<circle cx="341.5" cy="638.6" r="5.6" fill="#bfbfbf"/>
<circle cx="351.1" cy="640.1" r="5.6" fill="#bfbfbf"/>
<circle cx="360.6" cy="639.6" r="5.6" fill="#bfbfbf"/>
<circle cx="369.7" cy="642" r="5.6" fill="#bfbfbf"/>
<circle cx="379.6" cy="627.8" r="5.6" fill="#bfbfbf"/>
<circle cx="389" cy="638.6" r="5.6" fill="#bfbfbf"/>
<circle cx="398.8" cy="637.2" r="5.6" fill="#bfbfbf"/>
<circle cx="408.3" cy="641" r="5.6" fill="#bfbfbf"/>
<circle cx="418" cy="642" r="5.6" fill="#bfbfbf"/>
<circle cx="427.9" cy="649.4" r="5.6" fill="#bfbfbf"/>
<circle cx="437.4" cy="643.4" r="5.6" fill="#bfbfbf"/>
<circle cx="447.2" cy="636.7" r="5.6" fill="#bfbfbf"/>
<path d="M87.5,975.08 L88.73,974.58 L89.96,974.05 L91.19,973.51 L92.42,972.94 L93.65,972.35 L94.87,971.73 L96.1,971.08 L97.33,970.4 L98.56,969.7 L99.79,968.96 L101.02,968.19 L102.25,967.38 L103.48,966.54 L104.71,965.65 L105.94,964.72 L107.17,963.75 L108.39,962.73 L109.62,961.66 L110.85,960.54 L112.08,959.36 L113.31,958.12 L114.54,956.82 L115.77,955.45 L117,954.01 L118.23,952.5 L119.46,950.91 L120.69,949.23 L121.91,947.47 L123.14,945.61 L124.37,943.65 L125.6,941.59 L126.83,939.42 L128.06,937.13 L129.29,934.72 L130.52,932.18 L131.75,929.51 L132.98,926.69 L134.21,923.73 L135.43,920.62 L136.66,917.35 L137.89,913.92 L139.12,910.31 L140.35,906.53 L141.58,902.58 L142.81,898.44 L144.04,894.12 L145.27,889.62 L146.5,884.94 L147.73,880.08 L148.95,875.04 L150.18,869.84 L151.41,864.47 L152.64,858.96 L153.87,853.3 L155.1,847.53 L156.33,841.64 L157.56,835.67 L158.79,829.62 L160.02,823.52 L161.25,817.4 L162.47,811.27 L163.7,805.15 L164.93,799.07 L166.16,793.05 L167.39,787.11 L168.62,781.27 L169.85,775.54 L171.08,769.94 L172.31,764.48 L173.54,759.18 L174.77,754.04 L175.99,749.07 L177.22,744.28 L178.45,739.67 L179.68,735.24 L180.91,730.99 L182.14,726.93 L183.37,723.04 L184.6,719.33 L185.83,715.8 L187.06,712.43 L188.29,709.22 L189.52,706.17 L190.74,703.27 L191.97,700.51 L193.2,697.89 L194.43,695.4 L195.66,693.04 L196.89,690.8 L198.12,688.67 L199.35,686.65 L200.58,684.74 L201.81,682.91 L203.04,681.18 L204.26,679.54 L205.49,677.98 L206.72,676.5 L207.95,675.09 L209.18,673.75 L210.41,672.47 L211.64,671.25 L212.87,670.1 L214.1,669 L215.33,667.95 L216.56,666.95 L217.78,665.99 L219.01,665.08 L220.24,664.21 L221.47,663.38 L222.7,662.59 L223.93,661.83 L225.16,661.11 L226.39,660.41 L227.62,659.75 L228.85,659.11 L230.08,658.51 L231.3,657.92 L232.53,657.36 L233.76,656.83 L234.99,656.31 L236.22,655.82 L237.45,655.34 L238.68,654.89 L239.91,654.45 L241.14,654.02 L242.37,653.62 L243.6,653.23 L244.82,652.85 L246.05,652.49 L247.28,652.14 L248.51,651.8 L249.74,651.48 L250.97,651.17 L252.2,650.87 L253.43,650.57 L254.66,650.29 L255.89,650.02 L257.12,649.76 L258.34,649.5 L259.57,649.26 L260.8,649.02 L262.03,648.79 L263.26,648.57 L264.49,648.35 L265.72,648.14 L266.95,647.94 L268.18,647.75 L269.41,647.56 L270.64,647.37 L271.86,647.19 L273.09,647.02 L274.32,646.85 L275.55,646.69 L276.78,646.53 L278.01,646.38 L279.24,646.23 L280.47,646.08 L281.7,645.94 L282.93,645.8 L284.16,645.67 L285.38,645.54 L286.61,645.42 L287.84,645.29 L289.07,645.17 L290.3,645.06 L291.53,644.94 L292.76,644.83 L293.99,644.73 L295.22,644.62 L296.45,644.52 L297.68,644.42 L298.9,644.32 L300.13,644.23 L301.36,644.14 L302.59,644.05 L303.82,643.96 L305.05,643.87 L306.28,643.79 L307.51,643.71 L308.74,643.63 L309.97,643.55 L311.2,643.47 L312.42,643.4 L313.65,643.33 L314.88,643.26 L316.11,643.19 L317.34,643.12 L318.57,643.05 L319.8,642.99 L321.03,642.92 L322.26,642.86 L323.49,642.8 L324.72,642.74 L325.94,642.68 L327.17,642.63 L328.4,642.57 L329.63,642.52 L330.86,642.46 L332.09,642.41 L333.32,642.36 L334.55,642.31 L335.78,642.26 L337.01,642.21 L338.24,642.17 L339.46,642.12 L340.69,642.07 L341.92,642.03 L343.15,641.99 L344.38,641.94 L345.61,641.9 L346.84,641.86 L348.07,641.82 L349.3,641.78 L350.53,641.74 L351.76,641.7 L352.98,641.67 L354.21,641.63 L355.44,641.59 L356.67,641.56 L357.9,641.52 L359.13,641.49 L360.36,641.46 L361.59,641.42 L362.82,641.39 L364.05,641.36 L365.28,641.33 L366.51,641.3 L367.73,641.27 L368.96,641.24 L370.19,641.21 L371.42,641.18 L372.65,641.15 L373.88,641.12 L375.11,641.1 L376.34,641.07 L377.57,641.04 L378.8,641.02 L380.03,640.99 L381.25,640.97 L382.48,640.94 L383.71,640.92 L384.94,640.89 L386.17,640.87 L387.4,640.85 L388.63,640.83 L389.86,640.8 L391.09,640.78 L392.32,640.76 L393.55,640.74 L394.77,640.72 L396,640.7 L397.23,640.68 L398.46,640.66 L399.69,640.64 L400.92,640.62 L402.15,640.6 L403.38,640.58 L404.61,640.56 L405.84,640.54 L407.07,640.52 L408.29,640.51 L409.52,640.49 L410.75,640.47 L411.98,640.45 L413.21,640.44 L414.44,640.42 L415.67,640.41 L416.9,640.39 L418.13,640.37 L419.36,640.36 L420.59,640.34 L421.81,640.33 L423.04,640.31 L424.27,640.3 L425.5,640.28 L426.73,640.27 L427.96,640.25 L429.19,640.24 L430.42,640.23 L431.65,640.21 L432.88,640.2 L434.11,640.19 L435.33,640.17 L436.56,640.16 L437.79,640.15 L439.02,640.14 L440.25,640.12 L441.48,640.11 L442.71,640.1 L443.94,640.09 L445.17,640.07 L446.4,640.06 L447.63,640.05 L448.85,640.04 L450.08,640.03 L451.31,640.02 L452.54,640.01 L453.77,640 L455,639.99" fill="none" stroke="#000" stroke-width="3.2" stroke-linejoin="round" stroke-linecap="round"/>
<circle cx="589.4" cy="979.5" r="5.7" fill="#4a96d4"/>
<circle cx="600.9" cy="973.8" r="5.7" fill="#4a96d4"/>
<circle cx="612.4" cy="966.5" r="5.7" fill="#4a96d4"/>
<circle cx="624.1" cy="947.3" r="5.7" fill="#4a96d4"/>
<circle cx="636" cy="927.3" r="5.7" fill="#4a96d4"/>
<circle cx="647.5" cy="904.3" r="5.7" fill="#4a96d4"/>
<circle cx="659" cy="858.3" r="5.7" fill="#4a96d4"/>
<circle cx="670.9" cy="755.7" r="5.7" fill="#4a96d4"/>
<circle cx="683.1" cy="659.3" r="5.7" fill="#4a96d4"/>
<circle cx="694.6" cy="635.9" r="5.7" fill="#4a96d4"/>
<circle cx="706.5" cy="630.5" r="5.7" fill="#4a96d4"/>
<circle cx="718.3" cy="629.1" r="5.7" fill="#4a96d4"/>
<circle cx="730.2" cy="628.8" r="5.7" fill="#4a96d4"/>
<circle cx="742.4" cy="627" r="5.7" fill="#4a96d4"/>
<circle cx="754.3" cy="627.9" r="5.7" fill="#4a96d4"/>
<circle cx="766.6" cy="626.5" r="5.7" fill="#4a96d4"/>
<circle cx="778.9" cy="627.2" r="5.7" fill="#4a96d4"/>
<circle cx="791.3" cy="627.5" r="5.7" fill="#4a96d4"/>
<circle cx="803.4" cy="628.1" r="5.7" fill="#4a96d4"/>
<circle cx="815.5" cy="627.7" r="5.7" fill="#4a96d4"/>
<circle cx="827.7" cy="629.1" r="5.7" fill="#4a96d4"/>
<circle cx="840.1" cy="630.3" r="5.7" fill="#4a96d4"/>
<circle cx="852.3" cy="629.8" r="5.7" fill="#4a96d4"/>
<circle cx="864.9" cy="630.5" r="5.7" fill="#4a96d4"/>
<circle cx="877.3" cy="630.7" r="5.7" fill="#4a96d4"/>
<circle cx="889.7" cy="631" r="5.7" fill="#4a96d4"/>
<circle cx="902.1" cy="629.8" r="5.7" fill="#4a96d4"/>
<circle cx="914.7" cy="629.8" r="5.7" fill="#4a96d4"/>
<circle cx="927.1" cy="630.7" r="5.7" fill="#4a96d4"/>
<circle cx="939.8" cy="629.8" r="5.7" fill="#4a96d4"/>
<path d="M588.4,974.97 L600.9,972.99 L612.4,969.89 L624.1,964.04 L636,951.32 L647.5,921.1 L659,846.98 L670.9,738.62 L683.1,677.5 L694.6,655.48 L706.5,645.76 L718.3,641.04 L730.2,638.41 L742.4,636.79 L754.3,635.76 L766.6,635.05 L778.9,634.54 L791.3,634.17 L803.4,633.89 L815.5,633.68 L827.7,633.51 L840.1,633.38 L852.3,633.27 L864.9,633.17 L877.3,633.1 L889.7,633.03 L902.1,632.98 L914.7,632.93 L927.1,632.89 L939.8,632.85 L945.5,632.84" fill="none" stroke="#3950a5" stroke-width="3.2" stroke-linejoin="round" stroke-linecap="round"/>
<g clip-path="url(#clipf)">
<circle cx="1096.8" cy="963" r="5.6" fill="#4bb447"/>
<circle cx="1109.1" cy="958.6" r="5.6" fill="#4bb447"/>
<circle cx="1121.3" cy="956.1" r="5.6" fill="#4bb447"/>
<circle cx="1133.5" cy="947.4" r="5.6" fill="#4bb447"/>
<circle cx="1145.6" cy="936" r="5.6" fill="#4bb447"/>
<circle cx="1157.9" cy="926.9" r="5.6" fill="#4bb447"/>
<circle cx="1170.2" cy="921.6" r="5.6" fill="#4bb447"/>
<circle cx="1182.4" cy="917.8" r="5.6" fill="#4bb447"/>
<circle cx="1195" cy="911.1" r="5.6" fill="#4bb447"/>
<circle cx="1207.8" cy="906.7" r="5.6" fill="#4bb447"/>
<circle cx="1220.3" cy="903.9" r="5.6" fill="#4bb447"/>
<circle cx="1232.8" cy="897.9" r="5.6" fill="#4bb447"/>
<circle cx="1245.2" cy="885.3" r="5.6" fill="#4bb447"/>
<circle cx="1257.9" cy="875.9" r="5.6" fill="#4bb447"/>
<circle cx="1270.5" cy="847.3" r="5.6" fill="#4bb447"/>
<circle cx="1283.3" cy="782.5" r="5.6" fill="#4bb447"/>
<circle cx="1296" cy="688.9" r="5.6" fill="#4bb447"/>
<circle cx="1309" cy="635.1" r="5.6" fill="#4bb447"/>
<circle cx="1321.7" cy="627.2" r="5.6" fill="#4bb447"/>
<circle cx="1334.6" cy="624.9" r="5.6" fill="#4bb447"/>
<circle cx="1347.5" cy="626.1" r="5.6" fill="#4bb447"/>
<circle cx="1360.4" cy="624.5" r="5.6" fill="#4bb447"/>
<circle cx="1373.6" cy="626.1" r="5.6" fill="#4bb447"/>
<circle cx="1386.5" cy="626.5" r="5.6" fill="#4bb447"/>
<circle cx="1399.7" cy="626.1" r="5.6" fill="#4bb447"/>
<circle cx="1412.8" cy="625.6" r="5.6" fill="#4bb447"/>
<circle cx="1426.2" cy="626.8" r="5.6" fill="#4bb447"/>
<circle cx="1438.2" cy="625" r="5.6" fill="#4bb447"/>
<path d="M1071.4,972.5 L1084,969 L1096.8,963.4 L1109.1,957.2 L1121.3,951 L1133.5,944.9 L1145.6,938.3 L1157.9,932.1 L1170.2,925.9 L1182.4,919.8 L1195,912.9 L1207.8,905.8 L1220.3,898.9 L1232.8,891.3 L1245.2,883.3 L1257.9,871.8 L1270.5,850 L1283.3,783 L1296,680 L1309,646 L1321.7,638.2 L1334.6,635.3 L1347.5,634.3 L1360.4,633.7 L1373.6,633.4 L1386.5,633.1 L1399.7,632.9 L1412.8,632.7 L1426.2,632.5 L1439,632.4" fill="none" stroke="#1b5e30" stroke-width="3.2" stroke-linejoin="round" stroke-linecap="round"/>
</g>
<rect x="87.45" y="592" width="368.36" height="460.5" fill="none" stroke="#000" stroke-width="3.3"/>
<rect x="577.1" y="591.5" width="368.4" height="460.5" fill="none" stroke="#000" stroke-width="3.3"/>
<rect x="1071.7" y="591" width="368.2" height="460.4" fill="none" stroke="#000" stroke-width="3.3"/>
<circle cx="1596.9" cy="1044.1" r="5.4" fill="#bfbfbf"/>
<circle cx="1605.4" cy="1024.1" r="5.4" fill="#bfbfbf"/>
<circle cx="1612.4" cy="987.8" r="5.4" fill="#bfbfbf"/>
<circle cx="1622" cy="968.5" r="5.4" fill="#bfbfbf"/>
<circle cx="1655.8" cy="937.1" r="5.4" fill="#bfbfbf"/>
<circle cx="1691.3" cy="925.1" r="5.4" fill="#bfbfbf"/>
<circle cx="1725.3" cy="900.8" r="5.4" fill="#bfbfbf"/>
<circle cx="1762.4" cy="905.1" r="5.4" fill="#bfbfbf"/>
<circle cx="1798.4" cy="897.9" r="5.4" fill="#bfbfbf"/>
<circle cx="1835.8" cy="902.2" r="5.4" fill="#bfbfbf"/>
<circle cx="1907.5" cy="885.8" r="5.4" fill="#bfbfbf"/>
<circle cx="1598" cy="1033" r="5.4" fill="#4a96d4"/>
<circle cx="1603.1" cy="1008.1" r="5.4" fill="#4a96d4"/>
<circle cx="1606.9" cy="934.1" r="5.4" fill="#4a96d4"/>
<circle cx="1616.4" cy="910" r="5.4" fill="#4a96d4"/>
<circle cx="1645.5" cy="843.1" r="5.4" fill="#4a96d4"/>
<circle cx="1680.7" cy="823.3" r="5.4" fill="#4a96d4"/>
<circle cx="1715.8" cy="809.1" r="5.4" fill="#4a96d4"/>
<circle cx="1754.4" cy="825.9" r="5.4" fill="#4a96d4"/>
<circle cx="1792.4" cy="836.9" r="5.4" fill="#4a96d4"/>
<circle cx="1827.8" cy="823.1" r="5.4" fill="#4a96d4"/>
<circle cx="1865.2" cy="827.4" r="5.4" fill="#4a96d4"/>
<circle cx="1902.3" cy="830" r="5.4" fill="#4a96d4"/>
<circle cx="1924.1" cy="803.5" r="5.4" fill="#4a96d4"/>
<circle cx="1652.8" cy="602.3" r="5.4" fill="#4bb447"/>
<circle cx="1690.7" cy="621.1" r="5.4" fill="#4bb447"/>
<circle cx="1692" cy="630.3" r="5.4" fill="#4bb447"/>
<circle cx="1734.7" cy="648.6" r="5.4" fill="#4bb447"/>
<circle cx="1772.4" cy="656.7" r="5.4" fill="#4bb447"/>
<circle cx="1621.7" cy="757.6" r="5.4" fill="#4bb447"/>
<circle cx="1807.6" cy="640.6" r="5.4" fill="#4bb447"/>
<circle cx="1846.5" cy="657.6" r="5.4" fill="#4bb447"/>
<circle cx="1879.5" cy="624" r="5.4" fill="#4bb447"/>
<circle cx="1905.7" cy="634.6" r="5.4" fill="#4bb447"/>
<circle cx="1605" cy="917.4" r="5.4" fill="#4bb447"/>
<circle cx="1609.4" cy="921.1" r="5.4" fill="#4bb447"/>
<circle cx="1600.1" cy="985.6" r="5.4" fill="#4bb447"/>
<circle cx="1595.7" cy="994.9" r="5.4" fill="#4bb447"/>
<circle cx="1597.1" cy="1014.9" r="5.4" fill="#4bb447"/>
<path d="M1595,1051 L1595.25,1049.72 L1595.5,1048.46 L1595.75,1047.22 L1596,1046 L1596.25,1044.8 L1596.5,1043.61 L1596.75,1042.44 L1597,1041.28 L1597.25,1040.14 L1597.49,1039.02 L1597.74,1037.91 L1597.99,1036.81 L1598.24,1035.73 L1598.49,1034.67 L1598.74,1033.62 L1598.99,1032.58 L1599.24,1031.56 L1599.49,1030.55 L1599.74,1029.55 L1599.99,1028.56 L1600.24,1027.59 L1600.49,1026.63 L1600.74,1025.68 L1600.99,1024.75 L1601.24,1023.82 L1601.49,1022.91 L1601.74,1022.01 L1601.99,1021.12 L1602.24,1020.24 L1602.48,1019.37 L1602.73,1018.51 L1602.98,1017.66 L1603.23,1016.82 L1603.48,1015.99 L1603.73,1015.17 L1603.98,1014.36 L1604.23,1013.56 L1604.48,1012.77 L1604.73,1011.99 L1604.98,1011.22 L1605.23,1010.45 L1605.48,1009.7 L1605.73,1008.95 L1605.98,1008.21 L1606.23,1007.48 L1606.48,1006.75 L1606.73,1006.04 L1606.98,1005.33 L1607.23,1004.63 L1607.47,1003.94 L1607.72,1003.25 L1607.97,1002.58 L1608.22,1001.91 L1608.47,1001.24 L1608.72,1000.59 L1608.97,999.94 L1609.22,999.29 L1609.47,998.66 L1609.72,998.03 L1609.72,998.03 L1612.46,991.51 L1615.2,985.65 L1617.94,980.36 L1620.68,975.55 L1623.42,971.16 L1626.16,967.14 L1628.9,963.45 L1631.64,960.04 L1634.38,956.89 L1637.12,953.96 L1639.86,951.24 L1642.6,948.7 L1645.34,946.33 L1648.08,944.1 L1650.82,942.01 L1653.56,940.04 L1656.3,938.19 L1659.04,936.44 L1661.78,934.79 L1664.52,933.22 L1667.26,931.73 L1670,930.32 L1672.74,928.98 L1675.48,927.7 L1678.22,926.48 L1680.96,925.32 L1683.7,924.21 L1686.44,923.15 L1689.18,922.13 L1691.92,921.16 L1694.66,920.22 L1697.4,919.33 L1700.14,918.46 L1702.88,917.64 L1705.62,916.84 L1708.36,916.07 L1711.1,915.33 L1713.84,914.62 L1716.58,913.93 L1719.32,913.27 L1722.06,912.63 L1724.8,912.01 L1727.54,911.41 L1730.28,910.83 L1733.02,910.27 L1735.76,909.72 L1738.5,909.2 L1741.24,908.68 L1743.98,908.19 L1746.71,907.71 L1749.45,907.24 L1752.19,906.79 L1754.93,906.35 L1757.67,905.92 L1760.41,905.5 L1763.15,905.09 L1765.89,904.7 L1768.63,904.32 L1771.37,903.94 L1774.11,903.58 L1776.85,903.22 L1779.59,902.87 L1782.33,902.54 L1785.07,902.21 L1787.81,901.89 L1790.55,901.57 L1793.29,901.26 L1796.03,900.97 L1798.77,900.67 L1801.51,900.39 L1804.25,900.11 L1806.99,899.83 L1809.73,899.57 L1812.47,899.31 L1815.21,899.05 L1817.95,898.8 L1820.69,898.55 L1823.43,898.31 L1826.17,898.08 L1828.91,897.85 L1831.65,897.62 L1834.39,897.4 L1837.13,897.19 L1839.87,896.97 L1842.61,896.77 L1845.35,896.56 L1848.09,896.36 L1850.83,896.16 L1853.57,895.97 L1856.31,895.78 L1859.05,895.6 L1861.79,895.41 L1864.53,895.23 L1867.27,895.06 L1870.01,894.89 L1872.75,894.72 L1875.49,894.55 L1878.23,894.39 L1880.97,894.22 L1883.71,894.07 L1886.45,893.91 L1889.19,893.76 L1891.93,893.61 L1894.67,893.46 L1897.41,893.31 L1900.15,893.17 L1902.89,893.03 L1905.63,892.89 L1908.37,892.75 L1911.11,892.62 L1913.85,892.49 L1916.59,892.36 L1919.33,892.23 L1922.07,892.1 L1924.81,891.98 L1927.55,891.85 L1930.29,891.73 L1933.03,891.61 L1935.77,891.5" fill="none" stroke="#000" stroke-width="3.2" stroke-linejoin="round" stroke-linecap="round"/>
<path d="M1595,1051 L1595.25,1044.97 L1595.5,1039.23 L1595.75,1033.77 L1596,1028.57 L1596.25,1023.6 L1596.5,1018.86 L1596.75,1014.33 L1597,1009.99 L1597.25,1005.84 L1597.49,1001.86 L1597.74,998.03 L1597.99,994.36 L1598.24,990.83 L1598.49,987.44 L1598.74,984.17 L1598.99,981.02 L1599.24,977.99 L1599.49,975.06 L1599.74,972.24 L1599.99,969.51 L1600.24,966.87 L1600.49,964.32 L1600.74,961.86 L1600.99,959.47 L1601.24,957.16 L1601.49,954.92 L1601.74,952.74 L1601.99,950.64 L1602.24,948.59 L1602.48,946.61 L1602.73,944.68 L1602.98,942.81 L1603.23,940.99 L1603.48,939.21 L1603.73,937.49 L1603.98,935.82 L1604.23,934.18 L1604.48,932.59 L1604.73,931.05 L1604.98,929.54 L1605.23,928.07 L1605.48,926.63 L1605.73,925.23 L1605.98,923.87 L1606.23,922.54 L1606.48,921.24 L1606.73,919.97 L1606.98,918.72 L1607.23,917.51 L1607.47,916.33 L1607.72,915.17 L1607.97,914.03 L1608.22,912.93 L1608.47,911.84 L1608.72,910.78 L1608.97,909.74 L1609.22,908.72 L1609.47,907.73 L1609.72,906.75 L1609.72,906.75 L1612.46,897.22 L1615.2,889.44 L1617.94,882.97 L1620.68,877.51 L1623.42,872.83 L1626.16,868.78 L1628.9,865.25 L1631.64,862.13 L1634.38,859.36 L1637.12,856.88 L1639.86,854.65 L1642.6,852.64 L1645.34,850.81 L1648.08,849.14 L1650.82,847.61 L1653.56,846.2 L1656.3,844.9 L1659.04,843.7 L1661.78,842.58 L1664.52,841.55 L1667.26,840.58 L1670,839.67 L1672.74,838.82 L1675.48,838.02 L1678.22,837.27 L1680.96,836.57 L1683.7,835.9 L1686.44,835.27 L1689.18,834.67 L1691.92,834.1 L1694.66,833.56 L1697.4,833.05 L1700.14,832.56 L1702.88,832.09 L1705.62,831.65 L1708.36,831.22 L1711.1,830.82 L1713.84,830.43 L1716.58,830.06 L1719.32,829.7 L1722.06,829.36 L1724.8,829.03 L1727.54,828.71 L1730.28,828.41 L1733.02,828.11 L1735.76,827.83 L1738.5,827.56 L1741.24,827.29 L1743.98,827.04 L1746.71,826.79 L1749.45,826.56 L1752.19,826.33 L1754.93,826.11 L1757.67,825.89 L1760.41,825.68 L1763.15,825.48 L1765.89,825.29 L1768.63,825.1 L1771.37,824.91 L1774.11,824.73 L1776.85,824.56 L1779.59,824.39 L1782.33,824.23 L1785.07,824.07 L1787.81,823.91 L1790.55,823.76 L1793.29,823.61 L1796.03,823.47 L1798.77,823.33 L1801.51,823.19 L1804.25,823.06 L1806.99,822.93 L1809.73,822.81 L1812.47,822.68 L1815.21,822.56 L1817.95,822.45 L1820.69,822.33 L1823.43,822.22 L1826.17,822.11 L1828.91,822 L1831.65,821.9 L1834.39,821.79 L1837.13,821.69 L1839.87,821.6 L1842.61,821.5 L1845.35,821.41 L1848.09,821.32 L1850.83,821.23 L1853.57,821.14 L1856.31,821.05 L1859.05,820.97 L1861.79,820.88 L1864.53,820.8 L1867.27,820.72 L1870.01,820.64 L1872.75,820.57 L1875.49,820.49 L1878.23,820.42 L1880.97,820.35 L1883.71,820.27 L1886.45,820.2 L1889.19,820.14 L1891.93,820.07 L1894.67,820 L1897.41,819.94 L1900.15,819.87 L1902.89,819.81 L1905.63,819.75 L1908.37,819.69 L1911.11,819.63 L1913.85,819.57 L1916.59,819.51 L1919.33,819.46 L1922.07,819.4 L1924.81,819.34 L1927.55,819.29 L1930.29,819.24 L1933.03,819.18 L1935.77,819.13" fill="none" stroke="#3950a5" stroke-width="3.2" stroke-linejoin="round" stroke-linecap="round"/>
<path d="M1595,1051 L1595.25,1017.27 L1595.5,988.46 L1595.75,963.57 L1596,941.85 L1596.25,922.73 L1596.5,905.77 L1596.75,890.63 L1597,877.02 L1597.25,864.72 L1597.49,853.56 L1597.74,843.38 L1597.99,834.06 L1598.24,825.49 L1598.49,817.59 L1598.74,810.29 L1598.99,803.51 L1599.24,797.2 L1599.49,791.32 L1599.74,785.82 L1599.99,780.66 L1600.24,775.82 L1600.49,771.27 L1600.74,766.98 L1600.99,762.94 L1601.24,759.11 L1601.49,755.48 L1601.74,752.05 L1601.99,748.78 L1602.24,745.68 L1602.48,742.72 L1602.73,739.91 L1602.98,737.22 L1603.23,734.65 L1603.48,732.19 L1603.73,729.84 L1603.98,727.59 L1604.23,725.43 L1604.48,723.36 L1604.73,721.37 L1604.98,719.46 L1605.23,717.62 L1605.48,715.84 L1605.73,714.14 L1605.98,712.49 L1606.23,710.9 L1606.48,709.37 L1606.73,707.89 L1606.98,706.46 L1607.23,705.07 L1607.47,703.73 L1607.72,702.44 L1607.97,701.18 L1608.22,699.96 L1608.47,698.78 L1608.72,697.64 L1608.97,696.53 L1609.22,695.45 L1609.47,694.4 L1609.72,693.38 L1609.72,693.38 L1612.46,683.85 L1615.2,676.57 L1617.94,670.83 L1620.68,666.19 L1623.42,662.37 L1626.16,659.16 L1628.9,656.42 L1631.64,654.07 L1634.38,652.02 L1637.12,650.22 L1639.86,648.63 L1642.6,647.21 L1645.34,645.93 L1648.08,644.78 L1650.82,643.74 L1653.56,642.79 L1656.3,641.92 L1659.04,641.12 L1661.78,640.39 L1664.52,639.71 L1667.26,639.08 L1670,638.49 L1672.74,637.95 L1675.48,637.44 L1678.22,636.96 L1680.96,636.51 L1683.7,636.09 L1686.44,635.69 L1689.18,635.32 L1691.92,634.97 L1694.66,634.63 L1697.4,634.31 L1700.14,634.01 L1702.88,633.73 L1705.62,633.45 L1708.36,633.19 L1711.1,632.95 L1713.84,632.71 L1716.58,632.48 L1719.32,632.27 L1722.06,632.06 L1724.8,631.86 L1727.54,631.67 L1730.28,631.49 L1733.02,631.31 L1735.76,631.14 L1738.5,630.98 L1741.24,630.82 L1743.98,630.67 L1746.71,630.52 L1749.45,630.38 L1752.19,630.25 L1754.93,630.11 L1757.67,629.99 L1760.41,629.86 L1763.15,629.75 L1765.89,629.63 L1768.63,629.52 L1771.37,629.41 L1774.11,629.3 L1776.85,629.2 L1779.59,629.1 L1782.33,629.01 L1785.07,628.91 L1787.81,628.82 L1790.55,628.74 L1793.29,628.65 L1796.03,628.57 L1798.77,628.48 L1801.51,628.41 L1804.25,628.33 L1806.99,628.25 L1809.73,628.18 L1812.47,628.11 L1815.21,628.04 L1817.95,627.97 L1820.69,627.9 L1823.43,627.84 L1826.17,627.78 L1828.91,627.71 L1831.65,627.65 L1834.39,627.59 L1837.13,627.54 L1839.87,627.48 L1842.61,627.42 L1845.35,627.37 L1848.09,627.32 L1850.83,627.27 L1853.57,627.22 L1856.31,627.17 L1859.05,627.12 L1861.79,627.07 L1864.53,627.02 L1867.27,626.98 L1870.01,626.93 L1872.75,626.89 L1875.49,626.85 L1878.23,626.8 L1880.97,626.76 L1883.71,626.72 L1886.45,626.68 L1889.19,626.64 L1891.93,626.6 L1894.67,626.57 L1897.41,626.53 L1900.15,626.49 L1902.89,626.46 L1905.63,626.42 L1908.37,626.39 L1911.11,626.35 L1913.85,626.32 L1916.59,626.29 L1919.33,626.25 L1922.07,626.22 L1924.81,626.19 L1927.55,626.16 L1930.29,626.13 L1933.03,626.1 L1935.77,626.07" fill="none" stroke="#1b5e30" stroke-width="3.2" stroke-linejoin="round" stroke-linecap="round"/>
<text x="167.38" y="1139.5" font-size="38" text-anchor="start" fill="#000" letter-spacing="0.27">Molar Ratio</text>
<text x="647.38" y="1139.5" font-size="38" text-anchor="start" fill="#000" letter-spacing="0.27">Molar Ratio</text>
<text x="1142.88" y="1139.5" font-size="38" text-anchor="start" fill="#000" letter-spacing="0.27">Molar Ratio</text>
<text x="1568.48" y="1139" font-size="38" text-anchor="start" fill="#000" letter-spacing="0.2">Equilibrium Conc. (ppm)</text>
<text transform="translate(29.5,1004.8) rotate(-90)" x="0" y="0" font-size="38" text-anchor="start" fill="#000" letter-spacing="-0.28">Q (kcal mol<tspan font-size="24" dy="-15">-1</tspan><tspan dy="15"> of Pb</tspan><tspan font-size="24" dy="-15">2+</tspan><tspan dy="15">)</tspan></text>
<text transform="translate(514,1003.8) rotate(-90)" x="0" y="0" font-size="38" text-anchor="start" fill="#000" letter-spacing="-0.28">Q (kcal mol<tspan font-size="24" dy="-15">-1</tspan><tspan dy="15"> of Pb</tspan><tspan font-size="24" dy="-15">2+</tspan><tspan dy="15">)</tspan></text>
<text transform="translate(1011.5,1006.7) rotate(-90)" x="0" y="0" font-size="38" text-anchor="start" fill="#000" letter-spacing="-0.28">Q (kcal mol<tspan font-size="24" dy="-15">-1</tspan><tspan dy="15"> of Pb</tspan><tspan font-size="24" dy="-15">2+</tspan><tspan dy="15">)</tspan></text>
<text transform="translate(1502,1061.63) rotate(-90)" x="0" y="0" font-size="38" text-anchor="start" fill="#000" letter-spacing="0.23">Chelated Amount (mg/g)</text>
<text x="148.54" y="1033.7" font-size="27.5" text-anchor="start" fill="#000" letter-spacing="0.1">K<tspan font-size="16" dy="9">(<tspan font-weight="bold">1</tspan>),ITC</tspan><tspan dy="-9"> = (1.9 ± 0.3) x 10</tspan><tspan font-size="16" dy="-9.8">5</tspan></text>
<text x="642.44" y="1033.7" font-size="27.5" text-anchor="start" fill="#000" letter-spacing="0.1">K<tspan font-size="16" dy="9">(<tspan font-weight="bold">2</tspan>),ITC</tspan><tspan dy="-9"> = (8.9 ± 1.2) x 10</tspan><tspan font-size="16" dy="-9.8">5</tspan></text>
<text x="1123.24" y="993.9" font-size="27.5" text-anchor="start" fill="#000" letter-spacing="0.1">K<tspan font-size="16" dy="9">(<tspan font-weight="bold">3</tspan>),ITC,1</tspan><tspan dy="-9"> = (5.5 ± 0.3) x 10</tspan><tspan font-size="16" dy="-9.8">6</tspan></text>
<text x="1123.24" y="1033.1" font-size="27.5" text-anchor="start" fill="#000" letter-spacing="0.1">K<tspan font-size="16" dy="9">(<tspan font-weight="bold">3</tspan>),ITC,2</tspan><tspan dy="-9"> = (6.3 ± 0.3) x 10</tspan><tspan font-size="16" dy="-9.8">6</tspan></text>
<text x="1717.04" y="958.9" font-size="30" text-anchor="start" fill="#1b5e30">(<tspan font-weight="bold">3</tspan>) Q<tspan font-size="19" dy="7">o</tspan><tspan dy="-7"> = 200 mg/g</tspan></text>
<text x="1717.04" y="995.7" font-size="30" text-anchor="start" fill="#3950a5">(<tspan font-weight="bold">2</tspan>) Q<tspan font-size="19" dy="7">o</tspan><tspan dy="-7"> = 111 mg/g</tspan></text>
<text x="1717.04" y="1032" font-size="30" text-anchor="start" fill="#231f20">(<tspan font-weight="bold">1</tspan>) Q<tspan font-size="19" dy="7">o</tspan><tspan dy="-7"> = 72 mg/g</tspan></text>
</svg>
</body></html>
